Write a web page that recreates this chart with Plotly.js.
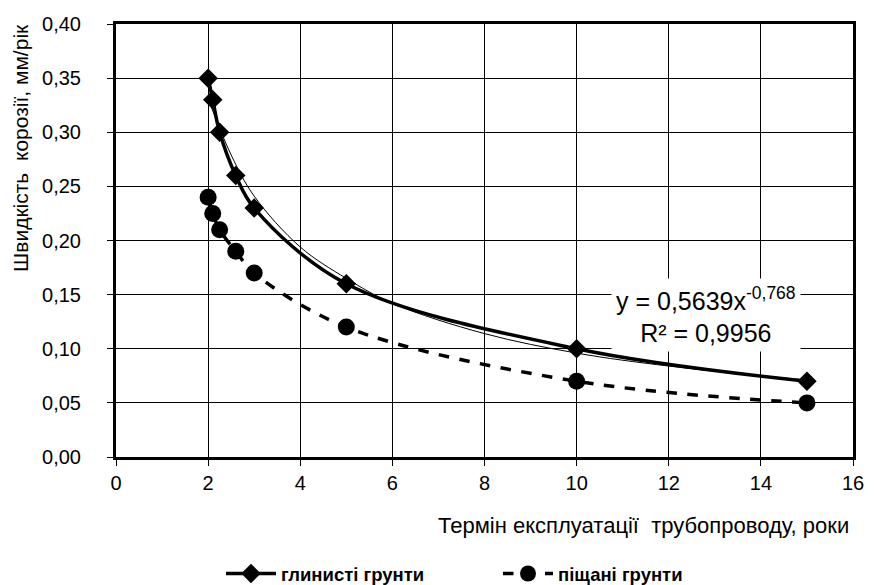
<!DOCTYPE html>
<html><head><meta charset="utf-8">
<script src="https://cdn.plot.ly/plotly-3.0.1.min.js"></script>
<style>body{margin:0;background:#fff}#c{width:874px;height:585px}</style>
</head><body><div id="c"></div>
<script>
const clayX = [2, 2.1, 2.25, 2.6, 3, 5, 10, 15];
const clayY = [0.35, 0.33, 0.30, 0.26, 0.23, 0.16, 0.10, 0.07];
const sandX = [2, 2.1, 2.25, 2.6, 3, 5, 10, 15];
const sandY = [0.24, 0.225, 0.21, 0.19, 0.17, 0.12, 0.07, 0.05];
const trendX = [2, 2.5, 3, 4, 5, 6, 8, 10, 12, 15];
const trendY = [0.331, 0.279, 0.241, 0.194, 0.165, 0.142, 0.114, 0.096, 0.084, 0.071];
const clayName = 'глинисті грунти';
const sandName = 'піщані грунти';
const xTitle = 'Термін експлуатації  трубопроводу, роки';
const yTitle = 'Швидкість  корозії, мм/рік';
const eqText = 'y = 0,5639x<sup>-0,768</sup><br>R² = 0,9956';

const fam = 'Liberation Sans, Arial, sans-serif';
const f = (size, extra) => Object.assign({family: fam, color: '#000', size: size}, extra || {});
const traces = [
  {x: trendX, y: trendY, mode: 'lines', line: {color: '#000', width: 1, shape: 'spline'}, showlegend: false, hoverinfo: 'skip'},
  {x: clayX, y: clayY, name: clayName, mode: 'lines+markers', line: {color: '#000', width: 3.5, shape: 'spline'},
   marker: {symbol: 'diamond', size: 15, color: '#000'}},
  {x: sandX, y: sandY, name: sandName, mode: 'lines+markers', line: {color: '#000', width: 3.5, dash: 'dash', shape: 'spline'},
   marker: {symbol: 'circle', size: 17, color: '#000'}}
];
const L = 116, R = 21, T = 24, B = 128;
const pw = 874 - L - R, ph = 585 - T - B;
const px = v => (v - L) / pw;
const py = v => (585 - B - v) / ph;
const layout = {
  width: 874, height: 585,
  margin: {l: L, r: R, t: T, b: B, autoexpand: false},
  separators: ', ',
  paper_bgcolor: '#fff', plot_bgcolor: '#fff',
  font: f(16),
  xaxis: {range: [0, 16], dtick: 2, tick0: 0, showgrid: true, gridcolor: '#000', gridwidth: 1,
    zeroline: false, showline: true, mirror: true, linecolor: '#000', linewidth: 3,
    ticks: 'outside', ticklen: 6, tickcolor: '#000', tickfont: f(20), ticklabelstandoff: 0, automargin: false},
  yaxis: {range: [0, 0.4], dtick: 0.05, tick0: 0, tickformat: '.2f', showgrid: true, gridcolor: '#000', gridwidth: 1,
    zeroline: false, showline: true, mirror: true, linecolor: '#000', linewidth: 3,
    ticks: 'outside', ticklen: 6, tickcolor: '#000', tickfont: f(20), ticklabelstandoff: 22, automargin: false},
  legend: {orientation: 'h', x: px(221), xanchor: 'left', y: py(555), yanchor: 'top',
    font: f(18.5, {weight: 'bold'}), itemwidth: 50, entrywidth: 212, entrywidthmode: 'pixels', bgcolor: 'rgba(0,0,0,0)'},
  annotations: [
    {x: px(706), y: py(315), xref: 'paper', yref: 'paper', text: eqText, xanchor: 'center', yanchor: 'middle',
     showarrow: false, bgcolor: '#fff', font: f(25), align: 'center', borderpad: 4},
    {x: px(643), y: py(525), xref: 'paper', yref: 'paper', text: xTitle,
     showarrow: false, font: f(22), xanchor: 'center', yanchor: 'middle'},
    {x: px(20), y: py(148), xref: 'paper', yref: 'paper', text: yTitle, textangle: -90,
     showarrow: false, font: f(21), xanchor: 'center', yanchor: 'middle'}
  ],
  showlegend: true
};
Plotly.newPlot('c', traces, layout, {displayModeBar: false, staticPlot: true});
</script></body></html>
